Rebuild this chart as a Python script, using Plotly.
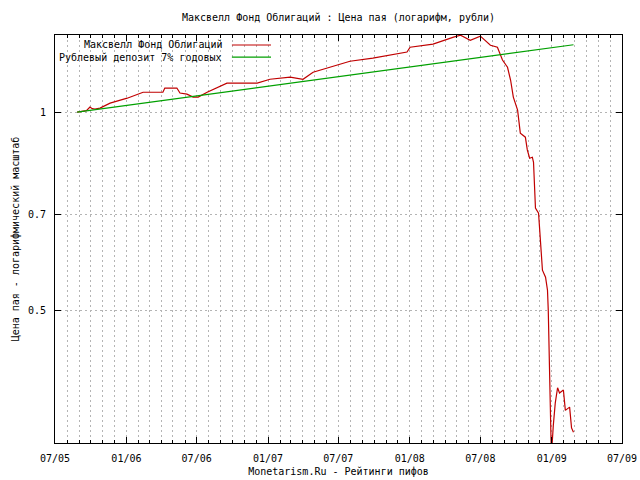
import math
import plotly.graph_objects as go

# ---- data ----
fund_name = "Максвелл Фонд Облигаций"
deposit_name = "Рублевый депозит 7% годовых"

fund_dates = [
    "2005-08-27", "2005-09-10", "2005-09-20", "2005-09-29", "2005-10-05",
    "2005-10-12", "2005-10-25", "2005-11-20", "2006-01-03", "2006-02-13",
    "2006-04-05", "2006-04-10", "2006-05-11", "2006-05-19", "2006-06-06",
    "2006-06-22", "2006-07-05", "2006-07-28", "2006-09-07", "2006-09-17",
    "2006-12-04", "2007-01-06", "2007-02-27", "2007-04-01", "2007-04-27",
    "2007-06-10", "2007-07-31", "2007-09-28", "2007-11-19", "2007-12-25",
    "2008-01-02", "2008-03-01", "2008-04-23", "2008-05-11", "2008-06-05",
    "2008-07-01", "2008-07-27", "2008-08-14", "2008-08-27", "2008-09-09",
    "2008-09-17", "2008-09-24", "2008-10-05", "2008-10-12", "2008-10-25",
    "2008-10-30", "2008-11-05", "2008-11-12", "2008-11-15", "2008-11-20",
    "2008-11-28", "2008-12-08", "2008-12-16", "2008-12-21", "2008-12-23",
    "2008-12-29", "2008-12-31", "2009-01-05", "2009-01-10", "2009-01-16",
    "2009-01-21", "2009-01-31", "2009-02-05", "2009-02-16", "2009-02-21",
    "2009-02-26",
]
fund_values = [
    1.000, 1.003, 1.005, 1.018, 1.012,
    1.011, 1.014, 1.032, 1.050, 1.072,
    1.072, 1.088, 1.088, 1.069, 1.065,
    1.054, 1.054, 1.072, 1.099, 1.107,
    1.107, 1.122, 1.130, 1.122, 1.150,
    1.170, 1.195, 1.208, 1.225, 1.234,
    1.255, 1.269, 1.300, 1.309, 1.286,
    1.305, 1.264, 1.255, 1.200, 1.170,
    1.118, 1.054, 1.007, 0.929, 0.916,
    0.876, 0.851, 0.854, 0.839, 0.715,
    0.702, 0.575, 0.561, 0.536, 0.500,
    0.337, 0.300, 0.334, 0.361, 0.381,
    0.374, 0.378, 0.352, 0.356, 0.331,
    0.326,
]

deposit_dates = ["2005-08-27", "2009-02-26"]
deposit_values = [1.000, 1.266]

y_tick_values = [0.5, 0.7, 1]
y_tick_labels = ["0.5", "0.7", "1"]
y_range = [0.314, 1.31]
x_range = ["2005-07-01", "2009-07-01"]

title_text = "Максвелл Фонд Облигаций : Цена пая (логарифм, рубли)"
x_title = "Monetarism.Ru - Рейтинги пифов"
y_title = "Цена пая - логарифмический масштаб"

RED = "#c00000"
GREEN = "#00a000"
GRID = "#b4b4b4"
GRIDDASH = "2px,3px"
FONT = "DejaVu Sans Mono"

FIG_W, FIG_H = 640, 480

fig = go.Figure()
fig.add_trace(go.Scatter(x=fund_dates, y=fund_values, mode="lines",
                         name=fund_name, line=dict(color=RED, width=1.2)))
fig.add_trace(go.Scatter(x=deposit_dates, y=deposit_values, mode="lines",
                         name=deposit_name, line=dict(color=GREEN, width=1.2)))

# gnuplot-style legend: text on the left, sample line on the right
leg_right = 0.298
leg_rows = [(0.9755, fund_name, RED), (0.946, deposit_name, GREEN)]
shapes = [dict(type="rect", xref="paper", yref="paper", x0=0.009, x1=0.39,
               y0=0.929, y1=0.995, fillcolor="white", line=dict(width=0),
               layer="between")]
annotations = []
for yy, txt, col in leg_rows:
    annotations.append(dict(xref="paper", yref="paper", x=leg_right, y=yy,
                            text=txt, showarrow=False, xanchor="right",
                            yanchor="middle", font=dict(family=FONT, size=10, color="black")))
    shapes.append(dict(type="line", xref="paper", yref="paper", x0=0.312, x1=0.381,
                       y0=yy, y1=yy, line=dict(color=col, width=1.2), layer="above"))

fig.update_layout(
    width=FIG_W, height=FIG_H,
    margin=dict(l=55, r=18, t=35, b=37, pad=0),
    paper_bgcolor="white", plot_bgcolor="white",
    showlegend=False,
    font=dict(family=FONT, size=10, color="black"),
    title=dict(text=title_text, x=0.5, xref="paper", xanchor="center",
               y=1 - 17 / FIG_H, yref="container", yanchor="middle",
               font=dict(family=FONT, size=10, color="black")),
    shapes=shapes, annotations=annotations,
)

fig.update_xaxes(
    type="date", range=x_range, tick0="2005-07-01", dtick="M6", tickformat="%m/%y",
    ticks="inside", ticklen=6, tickcolor="black", showline=True, linecolor="black",
    linewidth=1, mirror="ticks", showgrid=True, gridcolor=GRID, griddash=GRIDDASH,
    gridwidth=1, zeroline=False, ticklabelstandoff=6, automargin=False,
    minor=dict(dtick="M1", tick0="2005-07-01", ticks="inside", ticklen=3,
               tickcolor="black", showgrid=True, gridcolor=GRID, griddash=GRIDDASH,
               gridwidth=1),
    title=dict(text=x_title, standoff=4, font=dict(family=FONT, size=10)),
)
fig.update_yaxes(
    type="log", range=[math.log10(y_range[0]), math.log10(y_range[1])],
    tickvals=y_tick_values, ticktext=y_tick_labels,
    ticks="inside", ticklen=6, tickcolor="black", showline=True, linecolor="black",
    linewidth=1, mirror="ticks", showgrid=True, gridcolor=GRID, griddash=GRIDDASH,
    gridwidth=1, zeroline=False, ticklabelstandoff=6, automargin=False,
    title=dict(text=y_title, standoff=6, font=dict(family=FONT, size=10)),
)

# remove the browser's default 8px body margin so the figure fills the window
fig.write_html("out.html", config={"displayModeBar": False},
               post_script="document.body.style.margin='0';")
